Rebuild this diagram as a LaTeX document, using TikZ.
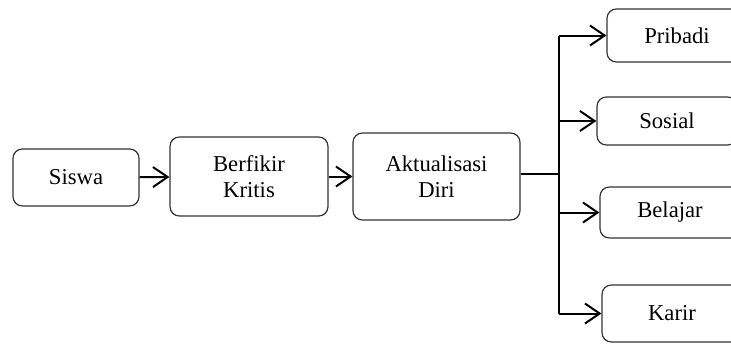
\documentclass[tikz,border=0pt]{standalone}
\usepackage{fontspec}
\setmainfont{Liberation Serif}
\usetikzlibrary{arrows.meta}

\begin{document}
\begin{tikzpicture}[x=0.75pt,y=-0.75pt,
    box/.style={draw=black!80, line width=0.9pt, rounded corners=7pt, align=center,
        inner sep=0pt, font=\fontsize{17}{20}\selectfont},
    flow/.style={-{Straight Barb[length=11pt,width=15pt]}, line width=1.5pt}]
    \useasboundingbox (0,0) rectangle (731,343);

    % Define the positions of the boxes
    \coordinate (siswaPos) at (76,177.5);
    \coordinate (berfikirPos) at (249,176.5);
    \coordinate (aktualPos) at (436.5,176.5);
    \coordinate (busPos) at (559,174);
    \coordinate (pribadiPos) at (677,35.5);
    \coordinate (sosialPos) at (667,121);
    \coordinate (belajarPos) at (670,212.5);
    \coordinate (karirPos) at (672,313.5);

    % Draw the boxes
    \node[box, minimum width=94.5pt, minimum height=42.75pt] (siswa) at (siswaPos) {Siswa};
    \node[box, minimum width=118.5pt, minimum height=59.25pt] (berfikir) at (berfikirPos) {Berfikir\\Kritis};
    \node[box, minimum width=125.25pt, minimum height=65.25pt] (aktual) at (aktualPos) {Aktualisasi\\Diri};
    \node[box, minimum width=105pt, minimum height=39.75pt] (pribadi) at (pribadiPos) {Pribadi};
    \node[box, minimum width=105pt, minimum height=36pt] (sosial) at (sosialPos) {Sosial};
    \node[box, minimum width=105pt, minimum height=38.25pt] (belajar) at (belajarPos) {Belajar};
    \node[box, minimum width=105pt, minimum height=42.75pt] (karir) at (karirPos) {Karir};

    % Draw the arrows
    \draw[flow] (siswa) -- (berfikir);
    \draw[flow] (berfikir) -- (aktual);
    \draw[line width=0.9pt] (aktual.east |- busPos) -- (busPos);
    \draw[line width=1.2pt] (pribadi.west -| busPos) -- (karir.west -| busPos);
    \draw[flow] (pribadi.west -| busPos) -- (pribadi.west);
    \draw[flow] (sosial.west -| busPos) -- (sosial.west);
    \draw[flow] (belajar.west -| busPos) -- (belajar.west);
    \draw[flow] (karir.west -| busPos) -- (karir.west);
\end{tikzpicture}
\end{document}
